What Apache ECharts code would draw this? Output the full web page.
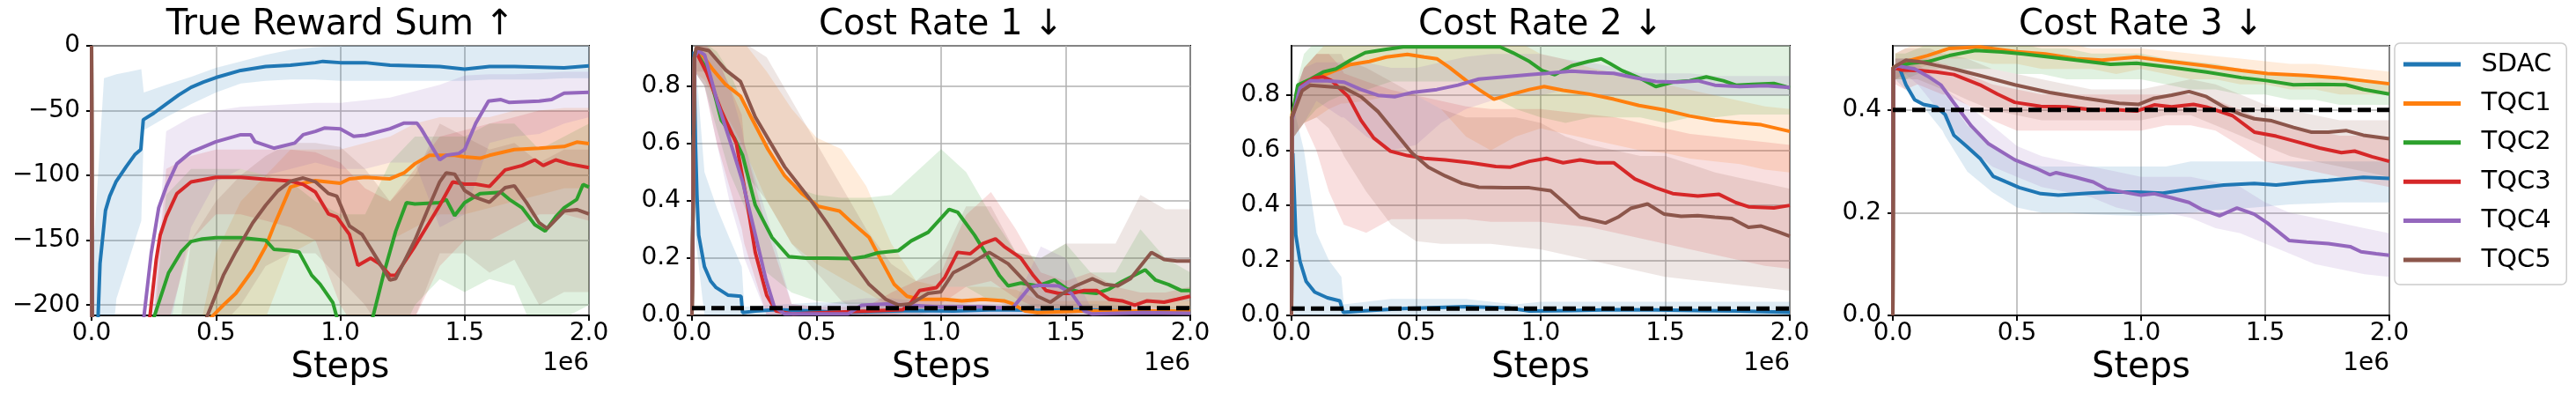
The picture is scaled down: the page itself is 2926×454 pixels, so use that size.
<!DOCTYPE html>
<html>
<head>
  <meta charset="utf-8">
  <title>Reward and cost rates</title>
  <script src="https://cdn.jsdelivr.net/npm/echarts@6/dist/echarts.min.js"></script>
</head>
<style>
  html,
  body {
    margin: 0;
    padding: 0;
    background: #fff;
  }
  #chart { width: 2926px; height: 454px; }
</style>

<body>
  <div id="chart"></div>

  <script>
    // methods, colours (matplotlib tab10) and panel texts
    const methods = ['SDAC', 'TQC1', 'TQC2', 'TQC3', 'TQC4', 'TQC5'];
    const colors = ['#1f77b4', '#ff7f0e', '#2ca02c', '#d62728', '#9467bd', '#8c564b'];
    const titles = ['True Reward Sum ↑', 'Cost Rate 1 ↓', 'Cost Rate 2 ↓', 'Cost Rate 3 ↓'];
    const yMins = [-208, 0, 0, 0];
    const yMaxs = [0, 0.94, 0.98, 0.525];
    const costLimits = [null, 0.025, 0.025, 0.4];

    // ---- mean curves, [steps (1e6), value] ----
    const rewardSDAC = [[0,0],[0.003,-300],[0.025,-215],[0.034,-168],[0.056,-127],[0.073,-116],[0.098,-105],[0.14,-93],[0.174,-84],[0.198,-80],[0.208,-57],[0.25,-52],[0.3,-45],[0.35,-38],[0.4,-32],[0.45,-28],[0.5,-24.5],[0.6,-19],[0.7,-16],[0.8,-15],[0.9,-13],[0.93,-12],[1.0,-13],[1.1,-13],[1.2,-15],[1.3,-15.5],[1.4,-16],[1.5,-18],[1.6,-16],[1.7,-16],[1.8,-16.5],[1.9,-17],[2.0,-15.5]];
    const rewardTQC1 = [[0,0],[0.003,-300],[0.45,-300],[0.479,-210],[0.53,-200],[0.58,-191],[0.648,-173],[0.7,-155],[0.733,-139],[0.8,-109],[0.851,-106],[0.9,-104],[1.0,-106],[1.037,-102.6],[1.1,-101.5],[1.2,-102.6],[1.257,-98],[1.3,-91],[1.359,-84.5],[1.4,-84.5],[1.46,-84.5],[1.5,-85.6],[1.562,-86.7],[1.6,-84.5],[1.7,-80],[1.8,-79],[1.9,-77.7],[1.951,-74.3],[2.0,-75.4]];
    const rewardTQC2 = [[0,0],[0.003,-300],[0.22,-300],[0.25,-210],[0.31,-175],[0.36,-159],[0.4,-151],[0.445,-149],[0.5,-148],[0.6,-148],[0.7,-150],[0.733,-157],[0.8,-158],[0.834,-159],[0.885,-177],[0.919,-184],[0.97,-198],[0.987,-210],[1.05,-240],[1.13,-210],[1.173,-177],[1.223,-143],[1.266,-121],[1.3,-122],[1.4,-121],[1.426,-118.5],[1.46,-131],[1.5,-121],[1.562,-114],[1.646,-113],[1.68,-118.5],[1.731,-125],[1.782,-138],[1.824,-143],[1.866,-132],[1.9,-125],[1.951,-118.5],[1.976,-107],[2.0,-109]];
    const rewardTQC3 = [[0,0],[0.003,-300],[0.21,-300],[0.234,-210],[0.26,-165],[0.276,-146],[0.3,-132],[0.343,-114],[0.4,-105],[0.5,-101.5],[0.6,-101.5],[0.7,-103],[0.8,-104.4],[0.851,-107],[0.9,-112.8],[0.953,-129.8],[0.986,-132],[1.037,-145.6],[1.071,-169.4],[1.122,-163.8],[1.156,-168],[1.2,-177],[1.223,-177],[1.3,-154.7],[1.4,-123],[1.452,-105],[1.5,-106.7],[1.545,-106.7],[1.6,-108.5],[1.663,-95.8],[1.731,-92.4],[1.782,-88],[1.816,-92.4],[1.866,-88],[1.917,-91],[2.0,-94]];
    const rewardTQC4 = [[0,0],[0.003,-300],[0.19,-300],[0.21,-210],[0.24,-160],[0.27,-125],[0.3,-109],[0.343,-91],[0.4,-82],[0.5,-74],[0.6,-68.6],[0.64,-68.6],[0.657,-74],[0.733,-79],[0.817,-75],[0.851,-68.6],[0.9,-66],[0.936,-63.4],[1.0,-64],[1.054,-69.8],[1.1,-69],[1.2,-64],[1.257,-59.6],[1.308,-59.6],[1.325,-64],[1.4,-88],[1.426,-84.5],[1.477,-83],[1.5,-80],[1.545,-59.6],[1.596,-42.6],[1.646,-41.5],[1.68,-43.7],[1.8,-42.6],[1.85,-41.5],[1.9,-36.5],[2.0,-35.8]];
    const rewardTQC5 = [[0,0],[0.003,-300],[0.43,-300],[0.462,-210],[0.53,-177],[0.58,-159],[0.648,-136.6],[0.7,-123],[0.75,-111.7],[0.8,-104.4],[0.851,-102],[0.9,-104.9],[0.953,-114],[0.986,-116],[1.037,-139],[1.088,-145.6],[1.139,-161.5],[1.2,-180.7],[1.223,-179.6],[1.3,-150],[1.359,-123],[1.4,-104.9],[1.426,-98],[1.46,-99],[1.5,-111.7],[1.545,-117],[1.6,-120.7],[1.663,-109.4],[1.7,-108],[1.748,-120.7],[1.8,-136.6],[1.832,-141],[1.9,-127.5],[1.951,-126.4],[2.0,-129.8]];

    const cost1SDAC = [[0,0],[0.008,0.92],[0.014,0.6],[0.02,0.42],[0.027,0.28],[0.05,0.17],[0.075,0.12],[0.097,0.097],[0.144,0.071],[0.197,0.067],[0.203,0.01],[0.254,0.015],[0.338,0.02],[0.49,0.015],[0.59,0.01],[0.71,0.013],[0.88,0.017],[1.05,0.015],[1.22,0.02],[1.39,0.018],[1.56,0.02],[1.73,0.015],[1.9,0.01],[2.0,0.01]];
    const cost1TQC1 = [[0,0],[0.01,0.9],[0.025,0.928],[0.085,0.856],[0.135,0.805],[0.195,0.764],[0.237,0.692],[0.305,0.579],[0.372,0.487],[0.44,0.426],[0.508,0.38],[0.592,0.364],[0.643,0.323],[0.711,0.272],[0.761,0.19],[0.812,0.108],[0.863,0.067],[0.914,0.056],[1.015,0.056],[1.083,0.051],[1.168,0.056],[1.252,0.051],[1.286,0.041],[1.337,0.015],[1.387,0.01],[1.557,0.015],[1.726,0.015],[2.0,0.015]];
    const cost1TQC2 = [[0,0],[0.01,0.9],[0.017,0.918],[0.068,0.846],[0.118,0.68],[0.169,0.62],[0.203,0.559],[0.254,0.385],[0.321,0.272],[0.389,0.205],[0.457,0.2],[0.541,0.2],[0.643,0.198],[0.694,0.205],[0.745,0.218],[0.829,0.226],[0.88,0.26],[0.948,0.29],[1.032,0.37],[1.066,0.36],[1.134,0.28],[1.184,0.21],[1.235,0.138],[1.269,0.103],[1.32,0.113],[1.388,0.103],[1.455,0.123],[1.506,0.092],[1.557,0.082],[1.624,0.077],[1.675,0.092],[1.726,0.118],[1.819,0.159],[1.861,0.123],[1.912,0.108],[1.963,0.087],[2.0,0.087]];
    const cost1TQC3 = [[0,0],[0.01,0.9],[0.017,0.918],[0.059,0.846],[0.118,0.713],[0.178,0.6],[0.22,0.4],[0.254,0.22],[0.3,0.07],[0.338,0.015],[0.406,0.005],[0.541,0.01],[0.711,0.015],[0.846,0.02],[0.88,0.046],[0.914,0.087],[0.981,0.097],[1.015,0.133],[1.066,0.22],[1.117,0.215],[1.168,0.251],[1.218,0.267],[1.252,0.241],[1.32,0.2],[1.371,0.138],[1.421,0.087],[1.472,0.077],[1.523,0.077],[1.574,0.087],[1.624,0.087],[1.675,0.056],[1.726,0.051],[1.777,0.036],[1.827,0.051],[1.895,0.046],[1.946,0.056],[2.0,0.067]];
    const cost1TQC4 = [[0,0],[0.01,0.9],[0.025,0.923],[0.051,0.908],[0.102,0.744],[0.152,0.61],[0.203,0.467],[0.254,0.282],[0.296,0.128],[0.33,0.031],[0.372,0.005],[0.626,0.005],[0.68,0.035],[0.778,0.04],[0.88,0.035],[0.981,0.03],[1.151,0.03],[1.286,0.025],[1.354,0.097],[1.387,0.105],[1.472,0.103],[1.523,0.077],[1.574,0.015],[1.607,0.005],[1.81,0.01],[2.0,0.008]];
    const cost1TQC5 = [[0,0],[0.01,0.9],[0.017,0.933],[0.068,0.923],[0.135,0.856],[0.195,0.815],[0.254,0.692],[0.372,0.518],[0.474,0.405],[0.541,0.323],[0.626,0.21],[0.711,0.108],[0.778,0.056],[0.829,0.036],[0.88,0.041],[0.948,0.077],[0.998,0.082],[1.049,0.149],[1.117,0.18],[1.193,0.22],[1.269,0.18],[1.337,0.118],[1.387,0.067],[1.438,0.046],[1.489,0.077],[1.54,0.103],[1.607,0.128],[1.658,0.108],[1.709,0.103],[1.76,0.128],[1.844,0.22],[1.895,0.195],[1.946,0.19],[2.0,0.19]];

    const cost2SDAC = [[0,0],[0.005,0.59],[0.017,0.293],[0.034,0.197],[0.059,0.123],[0.093,0.085],[0.144,0.064],[0.194,0.053],[0.208,0.011],[0.279,0.016],[0.448,0.025],[0.702,0.032],[0.871,0.027],[0.955,0.016],[1.124,0.018],[1.293,0.021],[1.462,0.02],[1.631,0.018],[1.8,0.016],[2.0,0.011]];
    const cost2TQC1 = [[0,0],[0.002,0.73],[0.025,0.816],[0.076,0.853],[0.161,0.885],[0.237,0.912],[0.313,0.923],[0.38,0.939],[0.465,0.949],[0.533,0.939],[0.583,0.933],[0.634,0.901],[0.702,0.853],[0.752,0.821],[0.812,0.786],[0.888,0.805],[0.955,0.821],[1.014,0.832],[1.09,0.818],[1.192,0.805],[1.293,0.786],[1.395,0.763],[1.496,0.747],[1.598,0.725],[1.699,0.709],[1.8,0.7],[1.885,0.693],[2.0,0.669]];
    const cost2TQC2 = [[0,0],[0.002,0.72],[0.025,0.837],[0.076,0.859],[0.127,0.885],[0.178,0.896],[0.237,0.928],[0.296,0.955],[0.38,0.967],[0.448,0.976],[0.837,0.976],[0.888,0.955],[0.955,0.923],[1.006,0.89],[1.057,0.875],[1.124,0.907],[1.192,0.923],[1.243,0.933],[1.276,0.917],[1.327,0.89],[1.395,0.864],[1.462,0.832],[1.53,0.848],[1.598,0.853],[1.665,0.867],[1.733,0.853],[1.784,0.837],[1.851,0.84],[1.936,0.843],[2.0,0.827]];
    const cost2TQC3 = [[0,0],[0.002,0.72],[0.042,0.837],[0.093,0.864],[0.127,0.867],[0.161,0.853],[0.228,0.795],[0.279,0.709],[0.33,0.645],[0.397,0.597],[0.465,0.581],[0.533,0.571],[0.617,0.565],[0.719,0.555],[0.82,0.541],[0.879,0.539],[0.955,0.56],[1.023,0.571],[1.09,0.555],[1.158,0.565],[1.226,0.555],[1.293,0.555],[1.378,0.496],[1.462,0.464],[1.53,0.443],[1.631,0.434],[1.716,0.44],[1.784,0.41],[1.834,0.395],[1.936,0.391],[2.0,0.4]];
    const cost2TQC4 = [[0,0],[0.002,0.71],[0.034,0.827],[0.076,0.853],[0.144,0.853],[0.211,0.848],[0.279,0.821],[0.347,0.8],[0.414,0.795],[0.482,0.81],[0.583,0.821],[0.668,0.837],[0.752,0.859],[0.854,0.867],[0.955,0.875],[1.023,0.88],[1.124,0.888],[1.226,0.882],[1.293,0.88],[1.378,0.864],[1.462,0.85],[1.547,0.848],[1.631,0.853],[1.699,0.837],[1.8,0.832],[1.902,0.835],[2.0,0.829]];
    const cost2TQC5 = [[0,0],[0.002,0.72],[0.042,0.816],[0.076,0.837],[0.144,0.832],[0.211,0.827],[0.279,0.795],[0.347,0.741],[0.414,0.667],[0.482,0.592],[0.549,0.539],[0.617,0.507],[0.685,0.48],[0.752,0.466],[0.854,0.464],[0.955,0.464],[1.04,0.453],[1.107,0.4],[1.158,0.357],[1.26,0.336],[1.31,0.357],[1.361,0.389],[1.429,0.405],[1.496,0.368],[1.564,0.36],[1.631,0.363],[1.699,0.357],[1.767,0.352],[1.834,0.32],[1.885,0.325],[1.953,0.304],[2.0,0.288]];

    const cost3SDAC = [[0,0],[0.002,0.48],[0.026,0.483],[0.053,0.449],[0.088,0.42],[0.123,0.411],[0.175,0.406],[0.211,0.391],[0.246,0.351],[0.298,0.329],[0.351,0.306],[0.404,0.271],[0.456,0.26],[0.509,0.249],[0.596,0.237],[0.667,0.234],[0.789,0.238],[0.877,0.24],[0.982,0.24],[1.088,0.238],[1.193,0.246],[1.333,0.254],[1.456,0.257],[1.544,0.254],[1.667,0.26],[1.754,0.263],[1.895,0.269],[2.0,0.267]];
    const cost3TQC1 = [[0,0],[0.002,0.483],[0.07,0.497],[0.14,0.506],[0.228,0.52],[0.351,0.523],[0.491,0.514],[0.614,0.509],[0.737,0.5],[0.842,0.497],[0.982,0.503],[1.123,0.494],[1.263,0.486],[1.404,0.477],[1.509,0.471],[1.667,0.467],[1.789,0.463],[1.895,0.457],[2.0,0.451]];
    const cost3TQC2 = [[0,0],[0.002,0.483],[0.07,0.491],[0.14,0.494],[0.228,0.506],[0.333,0.516],[0.439,0.513],[0.526,0.509],[0.632,0.503],[0.737,0.497],[0.877,0.489],[0.982,0.491],[1.123,0.483],[1.263,0.474],[1.404,0.463],[1.509,0.457],[1.614,0.449],[1.719,0.45],[1.825,0.449],[1.895,0.44],[2.0,0.431]];
    const cost3TQC3 = [[0,0],[0.002,0.483],[0.035,0.478],[0.105,0.477],[0.175,0.474],[0.246,0.469],[0.351,0.449],[0.421,0.431],[0.491,0.415],[0.596,0.407],[0.702,0.406],[0.807,0.4],[0.912,0.4],[0.982,0.398],[1.053,0.41],[1.123,0.406],[1.211,0.411],[1.263,0.406],[1.368,0.389],[1.456,0.357],[1.544,0.349],[1.614,0.34],[1.719,0.326],[1.807,0.317],[1.86,0.32],[1.93,0.309],[2.0,0.3]];
    const cost3TQC4 = [[0,0],[0.002,0.48],[0.018,0.486],[0.088,0.48],[0.14,0.466],[0.193,0.449],[0.246,0.414],[0.316,0.369],[0.386,0.334],[0.491,0.303],[0.579,0.286],[0.632,0.274],[0.658,0.278],[0.737,0.269],[0.807,0.26],[0.86,0.246],[0.93,0.24],[1.0,0.234],[1.053,0.237],[1.123,0.229],[1.193,0.22],[1.246,0.206],[1.316,0.194],[1.386,0.209],[1.456,0.197],[1.509,0.18],[1.596,0.146],[1.667,0.143],[1.754,0.14],[1.842,0.134],[1.886,0.124],[1.947,0.12],[2.0,0.117]];
    const cost3TQC5 = [[0,0],[0.002,0.483],[0.053,0.497],[0.105,0.494],[0.175,0.487],[0.246,0.48],[0.351,0.467],[0.491,0.449],[0.632,0.434],[0.772,0.423],[0.912,0.413],[0.991,0.411],[1.053,0.423],[1.123,0.429],[1.193,0.436],[1.263,0.426],[1.333,0.406],[1.404,0.391],[1.456,0.383],[1.526,0.379],[1.614,0.366],[1.684,0.357],[1.754,0.357],[1.825,0.36],[1.895,0.351],[2.0,0.344]];

    // ---- shaded bands: lower / upper edge sampled at bandSteps ----
    const bandSteps = [0.01, 0.05, 0.1, 0.15, 0.2, 0.21, 0.3, 0.4, 0.5, 0.6, 0.7, 0.8, 0.9, 1.0, 1.1, 1.2, 1.3, 1.4, 1.5, 1.6, 1.7, 1.8, 1.9, 2.0];

    const rewardSDACLo = [-300, -300, -195, -165, -135, -65, -55, -45, -36, -29, -27, -26, -26, -27, -27, -27, -27, -27, -27, -26, -26, -26, -25, -25];
    const rewardSDACHi = [-150, -25, -22, -20, -18, -36, -30, -24, -17, -12, -7, -3, -1, 0, 0, 0, 2, 2, 2, 2, 2, 2, 2, 2];
    const rewardTQC1Lo = [-300, -300, -300, -300, -300, -300, -300, -300, -260, -230, -210, -160, -150, -150, -150, -150, -140, -130, -130, -125, -120, -115, -110, -110];
    const rewardTQC1Hi = [-300, -300, -300, -300, -300, -300, -300, -250, -160, -120, -100, -80, -80, -80, -75, -70, -60, -55, -55, -55, -50, -50, -48, -48];
    const rewardTQC2Lo = [-300, -300, -300, -300, -300, -300, -260, -230, -210, -210, -220, -230, -250, -260, -260, -240, -200, -180, -190, -180, -185, -230, -210, -200];
    const rewardTQC2Hi = [-300, -300, -300, -300, -300, -300, -115, -95, -95, -95, -100, -105, -120, -130, -130, -90, -70, -70, -70, -60, -60, -80, -70, -60];
    const rewardTQC3Lo = [-300, -300, -300, -300, -300, -300, -220, -150, -130, -130, -135, -140, -150, -200, -230, -240, -210, -170, -150, -150, -140, -130, -130, -135];
    const rewardTQC3Hi = [-300, -300, -300, -300, -300, -300, -95, -85, -80, -80, -80, -80, -82, -90, -110, -120, -95, -70, -65, -60, -55, -50, -50, -50];
    const rewardTQC4Lo = [-300, -300, -300, -300, -300, -300, -230, -140, -105, -95, -100, -95, -90, -95, -95, -90, -90, -140, -130, -75, -70, -68, -60, -55];
    const rewardTQC4Hi = [-300, -300, -300, -300, -300, -300, -66, -55, -50, -47, -46, -45, -44, -44, -42, -40, -35, -30, -23, -22, -22, -21, -20, -20];
    const rewardTQC5Lo = [-300, -300, -300, -300, -300, -300, -300, -260, -220, -200, -170, -160, -160, -180, -200, -230, -210, -160, -160, -175, -165, -200, -190, -190];
    const rewardTQC5Hi = [-300, -300, -300, -300, -300, -300, -300, -150, -120, -100, -85, -75, -75, -78, -95, -120, -100, -60, -70, -80, -75, -90, -80, -80];

    const cost1SDACLo = [0.3, 0, 0, 0, 0, 0, 0, 0, 0, 0, 0, 0, 0, 0, 0, 0, 0, 0, 0, 0, 0, 0, 0, 0];
    const cost1SDACHi = [0.94, 0.5, 0.375, 0.27, 0.17, 0.03, 0.035, 0.04, 0.045, 0.045, 0.045, 0.04, 0.04, 0.04, 0.04, 0.04, 0.04, 0.04, 0.04, 0.04, 0.035, 0.035, 0.03, 0.03];
    const cost1TQC1Lo = [0.85, 0.82, 0.74, 0.68, 0.6, 0.58, 0.4, 0.25, 0.18, 0.13, 0.08, 0.03, 0.02, 0.02, 0.02, 0.02, 0.02, 0, 0, 0, 0, 0, 0, 0];
    const cost1TQC1Hi = [0.95, 0.95, 0.95, 0.95, 0.95, 0.95, 0.85, 0.72, 0.62, 0.58, 0.45, 0.25, 0.12, 0.1, 0.1, 0.1, 0.09, 0.05, 0.05, 0.05, 0.05, 0.05, 0.05, 0.05];
    const cost1TQC2Lo = [0.85, 0.8, 0.65, 0.5, 0.4, 0.38, 0.15, 0.08, 0.05, 0.04, 0.04, 0.04, 0.05, 0.1, 0.1, 0.05, 0.04, 0.03, 0.02, 0.02, 0.02, 0.04, 0.02, 0.02];
    const cost1TQC2Hi = [0.95, 0.95, 0.92, 0.85, 0.75, 0.72, 0.6, 0.45, 0.42, 0.41, 0.41, 0.42, 0.5, 0.58, 0.5, 0.35, 0.22, 0.2, 0.25, 0.15, 0.15, 0.3, 0.2, 0.15];
    const cost1TQC3Lo = [0.85, 0.8, 0.6, 0.45, 0.3, 0.25, 0, 0, 0, 0, 0, 0, 0.02, 0.04, 0.1, 0.12, 0.06, 0.02, 0.02, 0.02, 0.02, 0.02, 0.02, 0.03];
    const cost1TQC3Hi = [0.95, 0.95, 0.9, 0.8, 0.7, 0.6, 0.3, 0.04, 0.03, 0.03, 0.03, 0.08, 0.12, 0.15, 0.35, 0.43, 0.3, 0.15, 0.12, 0.15, 0.1, 0.08, 0.08, 0.1];
    const cost1TQC4Lo = [0.85, 0.8, 0.6, 0.4, 0.25, 0.2, 0, 0, 0, 0, 0, 0, 0, 0, 0, 0, 0, 0, 0, 0, 0, 0, 0, 0];
    const cost1TQC4Hi = [0.95, 0.95, 0.9, 0.8, 0.65, 0.6, 0.35, 0.04, 0.03, 0.05, 0.06, 0.06, 0.05, 0.05, 0.05, 0.05, 0.05, 0.24, 0.2, 0.03, 0.02, 0.02, 0.02, 0.02];
    const cost1TQC5Lo = [0.85, 0.85, 0.75, 0.65, 0.55, 0.5, 0.4, 0.25, 0.15, 0.05, 0, 0, 0, 0.02, 0.04, 0.06, 0.02, 0, 0, 0.02, 0.02, 0.05, 0.05, 0.05];
    const cost1TQC5Hi = [0.95, 0.95, 0.95, 0.95, 0.95, 0.95, 0.9, 0.75, 0.6, 0.45, 0.3, 0.18, 0.12, 0.2, 0.38, 0.38, 0.22, 0.2, 0.25, 0.25, 0.25, 0.42, 0.37, 0.37];

    const cost2SDACLo = [0, 0, 0, 0, 0, 0, 0, 0, 0, 0, 0, 0, 0, 0, 0, 0, 0, 0, 0, 0, 0, 0, 0, 0];
    const cost2SDACHi = [0.75, 0.6, 0.3, 0.2, 0.14, 0.04, 0.05, 0.06, 0.06, 0.06, 0.06, 0.05, 0.04, 0.05, 0.05, 0.05, 0.05, 0.05, 0.05, 0.05, 0.05, 0.05, 0.05, 0.05];
    const cost2TQC1Lo = [0.65, 0.7, 0.72, 0.75, 0.77, 0.77, 0.78, 0.8, 0.8, 0.75, 0.65, 0.6, 0.65, 0.68, 0.66, 0.64, 0.62, 0.6, 0.59, 0.57, 0.56, 0.55, 0.53, 0.52];
    const cost2TQC1Hi = [0.8, 0.9, 0.95, 1, 1, 1, 1, 1, 1, 1, 1, 1, 1, 0.95, 0.93, 0.9, 0.88, 0.86, 0.84, 0.82, 0.8, 0.78, 0.76, 0.75];
    const cost2TQC2Lo = [0.65, 0.7, 0.75, 0.78, 0.8, 0.8, 0.82, 0.85, 0.85, 0.85, 0.85, 0.8, 0.75, 0.72, 0.7, 0.72, 0.72, 0.72, 0.7, 0.72, 0.72, 0.73, 0.73, 0.73];
    const cost2TQC2Hi = [0.8, 0.95, 1, 1, 1, 1, 1, 1, 1, 1, 1, 1, 1, 1, 1, 1, 1, 1, 1, 1, 1, 1, 1, 1];
    const cost2TQC3Lo = [0.65, 0.7, 0.6, 0.45, 0.35, 0.33, 0.3, 0.35, 0.35, 0.35, 0.35, 0.34, 0.34, 0.34, 0.33, 0.32, 0.3, 0.28, 0.26, 0.24, 0.22, 0.2, 0.18, 0.17];
    const cost2TQC3Hi = [0.8, 0.9, 0.95, 0.95, 0.9, 0.88, 0.85, 0.82, 0.8, 0.78, 0.76, 0.75, 0.75, 0.75, 0.74, 0.73, 0.72, 0.7, 0.68, 0.66, 0.65, 0.64, 0.63, 0.62];
    const cost2TQC4Lo = [0.65, 0.7, 0.78, 0.75, 0.72, 0.72, 0.65, 0.6, 0.62, 0.7, 0.75, 0.78, 0.8, 0.8, 0.82, 0.8, 0.8, 0.8, 0.8, 0.8, 0.8, 0.8, 0.8, 0.8];
    const cost2TQC4Hi = [0.8, 0.9, 0.92, 0.92, 0.92, 0.92, 0.92, 0.9, 0.9, 0.92, 0.94, 0.95, 0.95, 0.95, 0.93, 0.92, 0.9, 0.88, 0.88, 0.88, 0.87, 0.87, 0.87, 0.87];
    const cost2TQC5Lo = [0.65, 0.7, 0.72, 0.68, 0.6, 0.58, 0.45, 0.33, 0.27, 0.26, 0.26, 0.26, 0.25, 0.24, 0.22, 0.2, 0.18, 0.16, 0.14, 0.13, 0.12, 0.11, 0.1, 0.09];
    const cost2TQC5Hi = [0.8, 0.9, 0.95, 0.95, 0.95, 0.93, 0.9, 0.85, 0.8, 0.75, 0.72, 0.72, 0.72, 0.7, 0.65, 0.62, 0.6, 0.58, 0.58, 0.55, 0.52, 0.5, 0.48, 0.46];

    const cost3SDACLo = [0.46, 0.44, 0.42, 0.39, 0.36, 0.35, 0.28, 0.24, 0.21, 0.2, 0.2, 0.197, 0.195, 0.194, 0.196, 0.2, 0.205, 0.208, 0.212, 0.216, 0.218, 0.22, 0.22, 0.22];
    const cost3SDACHi = [0.5, 0.5, 0.48, 0.46, 0.44, 0.43, 0.37, 0.33, 0.3, 0.29, 0.29, 0.29, 0.29, 0.29, 0.29, 0.3, 0.3, 0.3, 0.3, 0.3, 0.3, 0.3, 0.3, 0.3];
    const cost3TQC1Lo = [0.46, 0.47, 0.48, 0.49, 0.5, 0.5, 0.5, 0.49, 0.49, 0.48, 0.48, 0.48, 0.47, 0.48, 0.47, 0.46, 0.46, 0.45, 0.45, 0.44, 0.44, 0.43, 0.43, 0.43];
    const cost3TQC1Hi = [0.51, 0.52, 0.53, 0.54, 0.54, 0.54, 0.54, 0.54, 0.54, 0.54, 0.53, 0.52, 0.52, 0.52, 0.515, 0.51, 0.505, 0.5, 0.495, 0.49, 0.49, 0.485, 0.48, 0.475];
    const cost3TQC2Lo = [0.46, 0.46, 0.47, 0.48, 0.48, 0.48, 0.48, 0.48, 0.47, 0.47, 0.46, 0.46, 0.46, 0.46, 0.45, 0.44, 0.44, 0.43, 0.43, 0.42, 0.42, 0.41, 0.41, 0.41];
    const cost3TQC2Hi = [0.51, 0.51, 0.52, 0.53, 0.54, 0.54, 0.54, 0.53, 0.53, 0.52, 0.52, 0.51, 0.51, 0.51, 0.5, 0.495, 0.49, 0.48, 0.47, 0.47, 0.465, 0.465, 0.46, 0.455];
    const cost3TQC3Lo = [0.45, 0.44, 0.45, 0.44, 0.43, 0.43, 0.41, 0.38, 0.36, 0.36, 0.36, 0.36, 0.36, 0.36, 0.37, 0.37, 0.36, 0.33, 0.3, 0.29, 0.28, 0.27, 0.26, 0.25];
    const cost3TQC3Hi = [0.5, 0.5, 0.5, 0.5, 0.49, 0.49, 0.47, 0.45, 0.44, 0.43, 0.43, 0.43, 0.43, 0.43, 0.43, 0.43, 0.42, 0.4, 0.38, 0.37, 0.36, 0.35, 0.35, 0.34];
    const cost3TQC4Lo = [0.46, 0.47, 0.45, 0.42, 0.39, 0.38, 0.33, 0.29, 0.27, 0.25, 0.24, 0.23, 0.21, 0.2, 0.2, 0.19, 0.17, 0.16, 0.14, 0.12, 0.1, 0.09, 0.08, 0.075];
    const cost3TQC4Hi = [0.5, 0.5, 0.49, 0.47, 0.45, 0.44, 0.41, 0.37, 0.33, 0.31, 0.3, 0.29, 0.28, 0.27, 0.27, 0.27, 0.26, 0.25, 0.22, 0.2, 0.19, 0.18, 0.17, 0.16];
    const cost3TQC5Lo = [0.46, 0.46, 0.46, 0.45, 0.44, 0.44, 0.42, 0.4, 0.39, 0.38, 0.38, 0.38, 0.38, 0.38, 0.39, 0.39, 0.37, 0.35, 0.33, 0.31, 0.3, 0.29, 0.28, 0.27];
    const cost3TQC5Hi = [0.51, 0.52, 0.52, 0.52, 0.51, 0.51, 0.5, 0.48, 0.47, 0.46, 0.45, 0.44, 0.44, 0.44, 0.45, 0.46, 0.45, 0.43, 0.41, 0.4, 0.39, 0.38, 0.38, 0.38];

    // group per panel (order follows methods)
    const panelLines = [
      [rewardSDAC, rewardTQC1, rewardTQC2, rewardTQC3, rewardTQC4, rewardTQC5],
      [cost1SDAC, cost1TQC1, cost1TQC2, cost1TQC3, cost1TQC4, cost1TQC5],
      [cost2SDAC, cost2TQC1, cost2TQC2, cost2TQC3, cost2TQC4, cost2TQC5],
      [cost3SDAC, cost3TQC1, cost3TQC2, cost3TQC3, cost3TQC4, cost3TQC5]
    ];
    const panelBands = [
      [[rewardSDACLo, rewardSDACHi], [rewardTQC1Lo, rewardTQC1Hi], [rewardTQC2Lo, rewardTQC2Hi], [rewardTQC3Lo, rewardTQC3Hi], [rewardTQC4Lo, rewardTQC4Hi], [rewardTQC5Lo, rewardTQC5Hi]],
      [[cost1SDACLo, cost1SDACHi], [cost1TQC1Lo, cost1TQC1Hi], [cost1TQC2Lo, cost1TQC2Hi], [cost1TQC3Lo, cost1TQC3Hi], [cost1TQC4Lo, cost1TQC4Hi], [cost1TQC5Lo, cost1TQC5Hi]],
      [[cost2SDACLo, cost2SDACHi], [cost2TQC1Lo, cost2TQC1Hi], [cost2TQC2Lo, cost2TQC2Hi], [cost2TQC3Lo, cost2TQC3Hi], [cost2TQC4Lo, cost2TQC4Hi], [cost2TQC5Lo, cost2TQC5Hi]],
      [[cost3SDACLo, cost3SDACHi], [cost3TQC1Lo, cost3TQC1Hi], [cost3TQC2Lo, cost3TQC2Hi], [cost3TQC3Lo, cost3TQC3Hi], [cost3TQC4Lo, cost3TQC4Hi], [cost3TQC5Lo, cost3TQC5Hi]]
    ];

    // layout (px)
    const FONT = 'DejaVu Sans';
    const gridLefts = [104, 786, 1467, 2150];
    const gridWidths = [565, 566, 566, 564];
    const gridTop = 52, gridHeight = 306;

    // one filled polygon per band (lower edge forward, upper edge back), drawn through the axis scales
    function bandRenderer(rows, color) {
      return function (params, api) {
        if (params.dataIndex !== 0) return null;
        const lower = rows.map(r => api.coord([r[0], r[1]]));
        const upper = rows.map(r => api.coord([r[0], r[2]])).reverse();
        const cs = params.coordSys;
        return {
          type: 'polygon',
          shape: { points: lower.concat(upper) },
          style: { fill: color, opacity: 0.15 },
          clipPath: { type: 'rect', shape: { x: cs.x, y: cs.y, width: cs.width, height: cs.height } }
        };
      };
    }

    const series = [];
    panelBands.forEach((bands, p) => {
      bands.forEach(([lo, hi], i) => {
        const rows = bandSteps.map((x, k) => [x, lo[k], hi[k]]);
        series.push({
          type: 'custom', xAxisIndex: p, yAxisIndex: p, silent: true, z: 1,
          data: rows, encode: { x: 0, y: [1, 2] },
          renderItem: bandRenderer(rows, colors[i])
        });
      });
    });
    panelLines.forEach((lines, p) => {
      lines.forEach((data, i) => {
        series.push({
          type: 'line', name: methods[i], xAxisIndex: p, yAxisIndex: p, data,
          symbol: 'none', color: colors[i], z: 3,
          lineStyle: { color: colors[i], width: 4 }
        });
      });
      if (costLimits[p] !== null) {
        series.push({
          type: 'line', xAxisIndex: p, yAxisIndex: p, z: 4, symbol: 'none', silent: true,
          data: [[0, costLimits[p]], [2, costLimits[p]]],
          lineStyle: { color: '#000', width: 5, type: [15, 7] }
        });
      }
    });

    const chart = echarts.init(document.getElementById('chart'));
    chart.setOption({
      animation: false,
      backgroundColor: '#fff',
      textStyle: { fontFamily: FONT },
      grid: gridLefts.map((l, k) => ({
        left: l, top: gridTop, width: gridWidths[k], height: gridHeight,
        show: true, borderColor: '#000', borderWidth: 2, outerBoundsMode: 'none'
      })),
      xAxis: gridLefts.map((l, k) => ({
        gridIndex: k, type: 'value', min: 0, max: 2, interval: 0.5,
        name: 'Steps', nameLocation: 'middle', nameGap: 39,
        nameTextStyle: { fontSize: 40, color: '#000', fontFamily: FONT },
        axisLine: { show: true, onZero: false, lineStyle: { color: '#000', width: 2 } },
        axisTick: { show: true, length: 6, lineStyle: { color: '#000', width: 2 } },
        axisLabel: { fontSize: 28, color: '#000', margin: 7, fontFamily: FONT, formatter: v => v.toFixed(1) },
        splitLine: { show: true, lineStyle: { color: '#b0b0b0', width: 1.5 } }
      })),
      yAxis: gridLefts.map((l, k) => ({
        gridIndex: k, type: 'value', min: yMins[k], max: yMaxs[k],
        interval: k === 0 ? undefined : 0.2,
        axisLine: { show: true, onZero: false, lineStyle: { color: '#000', width: 2 } },
        axisTick: { show: true, length: 6, lineStyle: { color: '#000', width: 2 } },
        axisLabel: {
          fontSize: 28, color: '#000', margin: 13, fontFamily: FONT,
          showMinLabel: k !== 0, showMaxLabel: k === 0,
          formatter: v => k === 0 ? (v < 0 ? '\u2212' + Math.abs(v) : String(v)) : v.toFixed(1)
        },
        splitLine: { show: true, lineStyle: { color: '#b0b0b0', width: 1.5 } }
      })),
      legend: {
        data: methods, orient: 'vertical', left: 2720, top: 49,
        padding: [9, 17, 13, 10], itemGap: 14.4, itemWidth: 65, itemHeight: 5, icon: 'rect',
        formatter: n => '  ' + n,
        textStyle: { fontSize: 29, lineHeight: 30, color: '#000', fontFamily: FONT },
        borderColor: '#cccccc', borderWidth: 1.5, borderRadius: 6, backgroundColor: '#fff'
      },
      graphic: [
        ...titles.map((t, k) => ({
          type: 'text', x: gridLefts[k] + gridWidths[k] / 2, y: 29,
          style: { text: t, fontSize: 40, fontFamily: FONT, fill: '#000', align: 'center', verticalAlign: 'middle' }
        })),
        ...gridLefts.map((l, k) => ({
          type: 'text', x: l + gridWidths[k], y: 413,
          style: { text: '1e6', fontSize: 28, fontFamily: FONT, fill: '#000', align: 'right', verticalAlign: 'middle' }
        }))
      ],
      series: series
    });
  </script>
</body>
</html>
